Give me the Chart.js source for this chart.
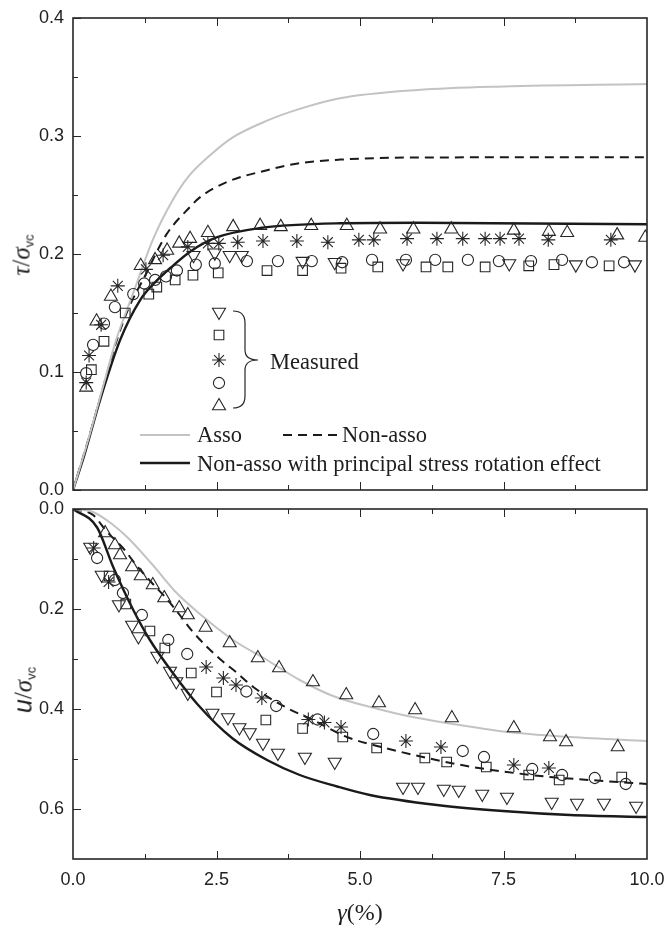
<!DOCTYPE html>
<html>
<head>
<meta charset="utf-8">
<script src="https://cdn.jsdelivr.net/npm/chart.js@4.4.1/dist/chart.umd.min.js"></script>
<style>
body { margin: 0; background: #fff; }
#wrap { position: relative; width: 666px; height: 926px; }
canvas { position: absolute; left: 0; }
.t { position: absolute; font-family: "Liberation Serif", "Times New Roman", serif; color: #1e1e1e; white-space: nowrap; line-height: 1; }
.leg { font-size: 22.5px; }
.ax { font-size: 25px; transform: translate(-50%, -50%) rotate(-90deg); }
.ax sub { font-family: "Liberation Sans", Arial, sans-serif; font-size: 13px; vertical-align: -4px; }
</style>
</head>
<body>
<div id="wrap">
  <canvas id="topChart" width="666" height="500" style="top:0"></canvas>
  <canvas id="botChart" width="666" height="426" style="top:500px"></canvas>

  <div class="t leg" style="left:270px; top:351px">Measured</div>
  <div class="t leg" style="left:197px; top:424px">Asso</div>
  <div class="t leg" style="left:342px; top:424px">Non-asso</div>
  <div class="t leg" style="left:197px; top:453px">Non-asso with principal stress rotation effect</div>

  <div class="t ax" style="left:22px; top:255px"><i>τ</i>/<i>σ</i><sub>vc</sub></div>
  <div class="t ax" style="left:24px; top:690px"><i style="font-family:'Liberation Sans',Arial,sans-serif">u</i>/<i>σ</i><sub>vc</sub></div>
  <div class="t" style="left:360px; top:912px; font-size:24px; transform:translate(-50%,-50%)"><i>γ</i>(%)</div>
</div>

<script>
// axis ticks
const xTicks = [0, 2.5, 5, 7.5, 10];
const tauTicks = [0, 0.1, 0.2, 0.3, 0.4];
const uTicks = [0, 0.2, 0.4, 0.6];

// model curves, shear stress ratio
const tauAsso = [[0,0],[0.25,0.04],[0.52,0.087],[0.75,0.127],[1.05,0.167],[1.39,0.212],[1.74,0.246],[2.0,0.265],[2.42,0.285],[2.79,0.299],[3.38,0.313],[3.95,0.323],[4.65,0.332],[6,0.339],[7.5,0.342],[10,0.344]];
const tauNonAsso = [[0,0],[0.25,0.04],[0.56,0.093],[0.75,0.125],[0.96,0.153],[1.25,0.181],[1.62,0.216],[2.04,0.24],[2.21,0.248],[2.68,0.261],[3.38,0.271],[3.95,0.277],[4.65,0.28],[6,0.2818],[10,0.282]];
const tauRotation = [[0,0],[0.2,0.03],[0.47,0.076],[0.82,0.127],[1.17,0.161],[1.45,0.177],[1.74,0.19],[2.04,0.202],[2.5,0.214],[3.26,0.222],[4.65,0.226],[6,0.2265],[8,0.2258],[10,0.2252]];

// measured, shear stress ratio
const tauDown = [[2.1,0.199],[2.47,0.201],[2.73,0.199],[2.94,0.199],[4.0,0.194],[4.56,0.193],[5.75,0.192],[7.6,0.192],[8.76,0.191],[9.79,0.191]];
const tauSquare = [[0.32,0.102],[0.54,0.126],[0.91,0.150],[1.32,0.166],[1.46,0.172],[1.78,0.178],[2.09,0.182],[2.53,0.184],[3.38,0.186],[4.0,0.186],[4.67,0.188],[5.31,0.189],[6.15,0.189],[6.53,0.189],[7.18,0.189],[7.94,0.190],[8.38,0.191],[9.34,0.190]];
const tauStar = [[0.23,0.091],[0.28,0.114],[0.49,0.140],[0.78,0.173],[1.27,0.187],[1.57,0.199],[2.0,0.206],[2.35,0.209],[2.54,0.209],[2.87,0.210],[3.31,0.211],[3.9,0.211],[4.44,0.210],[4.98,0.212],[5.24,0.212],[5.82,0.213],[6.34,0.213],[6.79,0.213],[7.18,0.213],[7.44,0.213],[7.77,0.213],[8.28,0.212],[9.37,0.212]];
const tauCircle = [[0.23,0.099],[0.35,0.123],[0.54,0.141],[0.73,0.155],[1.05,0.166],[1.24,0.175],[1.43,0.178],[1.62,0.181],[1.81,0.186],[2.14,0.191],[2.47,0.192],[3.03,0.194],[3.57,0.194],[4.16,0.194],[4.69,0.193],[5.21,0.195],[5.80,0.195],[6.31,0.195],[6.88,0.195],[7.42,0.194],[7.98,0.194],[8.52,0.195],[9.04,0.193],[9.6,0.193]];
const tauUp = [[0.23,0.087],[0.41,0.143],[0.66,0.164],[1.18,0.190],[1.43,0.195],[1.64,0.203],[1.85,0.209],[2.04,0.213],[2.35,0.218],[2.79,0.223],[3.26,0.224],[3.62,0.223],[4.15,0.224],[4.77,0.224],[5.35,0.221],[5.93,0.221],[6.59,0.221],[7.68,0.220],[8.29,0.219],[8.61,0.218],[9.48,0.216],[9.97,0.214]];

// model curves, pore pressure ratio
const uAsso = [[0,0],[0.35,0.006],[0.7,0.032],[0.96,0.058],[1.39,0.112],[1.79,0.166],[2.21,0.21],[2.79,0.262],[3.38,0.302],[3.95,0.342],[4.53,0.374],[5.35,0.401],[5.75,0.412],[6.62,0.43],[7.49,0.445],[8.66,0.456],[10,0.464]];
const uNonAsso = [[0,0],[0.35,0.012],[0.58,0.044],[0.87,0.078],[1.1,0.112],[1.36,0.146],[1.62,0.178],[1.86,0.212],[2.09,0.246],[2.56,0.3],[2.86,0.328],[3.14,0.356],[3.73,0.398],[4.18,0.422],[4.77,0.456],[5.44,0.478],[6.17,0.498],[6.86,0.514],[7.56,0.526],[8.31,0.536],[9.0,0.542],[10,0.55]];
const uRotation = [[0,0],[0.42,0.037],[0.7,0.116],[1.05,0.202],[1.34,0.262],[1.74,0.328],[2.18,0.392],[2.77,0.458],[3.38,0.502],[3.95,0.532],[4.6,0.555],[5.17,0.572],[6.34,0.592],[7.49,0.604],[8.66,0.612],[10,0.616]];

// measured, pore pressure ratio
const uDown = [[0.3,0.076],[0.5,0.132],[0.8,0.191],[1.03,0.232],[1.14,0.255],[1.47,0.294],[1.69,0.324],[1.8,0.345],[2.0,0.368],[2.43,0.408],[2.7,0.417],[2.9,0.437],[3.08,0.447],[3.31,0.468],[3.57,0.488],[4.04,0.496],[4.56,0.506],[5.75,0.556],[6.01,0.556],[6.46,0.56],[6.72,0.562],[7.13,0.57],[7.56,0.576],[8.34,0.586],[8.78,0.588],[9.25,0.588],[9.81,0.594]];
const uSquare = [[0.63,0.134],[0.92,0.19],[1.34,0.244],[1.6,0.278],[2.06,0.328],[2.5,0.366],[3.36,0.422],[4.0,0.439],[4.7,0.456],[5.29,0.478],[6.13,0.498],[6.51,0.506],[7.2,0.516],[7.94,0.532],[8.47,0.542],[9.56,0.536]];
const uStar = [[0.36,0.078],[0.62,0.146],[2.32,0.316],[2.62,0.338],[2.84,0.352],[3.29,0.378],[4.1,0.421],[4.38,0.427],[4.67,0.436],[5.8,0.464],[6.41,0.476],[7.68,0.512],[8.29,0.518]];
const uCircle = [[0.42,0.098],[0.73,0.142],[0.87,0.168],[1.2,0.212],[1.66,0.262],[1.99,0.29],[3.02,0.365],[3.54,0.394],[4.26,0.421],[5.23,0.45],[6.79,0.484],[7.16,0.496],[8.0,0.52],[8.52,0.532],[9.09,0.538],[9.63,0.55]];
const uUp = [[0.56,0.048],[0.73,0.072],[0.82,0.092],[1.03,0.116],[1.18,0.134],[1.39,0.152],[1.59,0.178],[1.85,0.198],[2.0,0.212],[2.31,0.237],[2.73,0.268],[3.22,0.298],[3.59,0.318],[4.18,0.346],[4.76,0.372],[5.33,0.388],[5.96,0.402],[6.6,0.418],[7.68,0.438],[8.31,0.456],[8.59,0.466],[9.49,0.476]];

const ink = '#262626';
const tickFont = { family: '"Liberation Sans", Arial, sans-serif', size: 18 };

const pts = arr => arr.map(p => ({ x: p[0], y: p[1] }));

function curve(data, color, width, dash) {
  return {
    data: pts(data), showLine: true, borderColor: color, borderWidth: width,
    borderDash: dash || [], pointRadius: 0, cubicInterpolationMode: 'monotone', fill: false
  };
}
function marks(data, style, radius, rotation) {
  return {
    data: pts(data), showLine: false, pointStyle: style, pointRadius: radius,
    pointRotation: rotation || 0, borderColor: ink, backgroundColor: 'rgba(0,0,0,0)',
    pointBorderWidth: 1.1
  };
}

function measuredSets(down, square, star, circle, up) {
  return [
    marks(down, 'triangle', 7.5, 180),
    marks(square, 'rect', 6.8),
    marks(star, 'star', 7),
    marks(circle, 'circle', 5.6),
    marks(up, 'triangle', 7.5)
  ];
}

function tickList(major) {
  const all = [];
  for (let i = 0; i < major.length; i++) {
    all.push([major[i], 8]);
    if (i < major.length - 1) all.push([(major[i] + major[i + 1]) / 2, 5]);
  }
  return all;
}

// frame and inward ticks
const framePlugin = {
  id: 'frame',
  afterDraw(chart, args, opts) {
    const { ctx, chartArea: a, scales } = chart;
    ctx.save();
    ctx.strokeStyle = ink;
    ctx.lineWidth = 1;
    ctx.beginPath();
    tickList(xTicks).forEach(([v, len]) => {
      const px = Math.round(scales.x.getPixelForValue(v)) + 0.5;
      if (v <= 0 || v >= 10) return;
      ctx.moveTo(px, a.bottom); ctx.lineTo(px, a.bottom - len);
      ctx.moveTo(px, a.top); ctx.lineTo(px, a.top + len);
    });
    tickList(opts.yTicks).forEach(([v, len]) => {
      const py = Math.round(scales.y.getPixelForValue(v)) + 0.5;
      ctx.moveTo(a.left, py); ctx.lineTo(a.left + len, py);
    });
    ctx.stroke();
    ctx.lineWidth = 1.6;
    ctx.strokeRect(a.left, a.top, a.right - a.left, a.bottom - a.top);
    ctx.restore();
  }
};

// in-plot legend (markers, brace and line samples)
const keyPlugin = {
  id: 'key',
  afterDraw(chart) {
    const ctx = chart.ctx;
    const draw = Chart.helpers && Chart.helpers.drawPoint;
    ctx.save();
    ctx.strokeStyle = ink;
    ctx.fillStyle = 'rgba(0,0,0,0)';
    ctx.lineWidth = 1.1;
    const keys = [
      ['triangle', 7.5, 180, 312], ['rect', 6.8, 0, 335], ['star', 7, 0, 360],
      ['circle', 5.6, 0, 383], ['triangle', 7.5, 0, 406]
    ];
    keys.forEach(k => {
      if (draw) draw(ctx, { pointStyle: k[0], radius: k[1], rotation: k[2], borderWidth: 1.1 }, 219, k[3]);
    });
    // brace
    ctx.lineWidth = 1.2;
    ctx.beginPath();
    ctx.moveTo(233, 311);
    ctx.quadraticCurveTo(245, 311, 245, 323);
    ctx.lineTo(245, 350);
    ctx.quadraticCurveTo(245, 360, 258, 360);
    ctx.quadraticCurveTo(245, 360, 245, 370);
    ctx.lineTo(245, 396);
    ctx.quadraticCurveTo(245, 408, 233, 408);
    ctx.stroke();
    // line samples
    ctx.lineWidth = 2;
    ctx.strokeStyle = '#c3c3c3';
    ctx.beginPath(); ctx.moveTo(140, 435); ctx.lineTo(190, 435); ctx.stroke();
    ctx.strokeStyle = '#1a1a1a';
    ctx.setLineDash([9, 6]);
    ctx.beginPath(); ctx.moveTo(283, 435); ctx.lineTo(340, 435); ctx.stroke();
    ctx.setLineDash([]);
    ctx.lineWidth = 2.4;
    ctx.beginPath(); ctx.moveTo(140, 463); ctx.lineTo(190, 463); ctx.stroke();
    ctx.restore();
  }
};

function yScale(min, max, ticks, reverse) {
  return {
    type: 'linear', min: min, max: max, reverse: !!reverse,
    afterBuildTicks: s => { s.ticks = ticks.map(v => ({ value: v })); },
    afterFit: s => { s.width = 73; s.paddingTop = 0; s.paddingBottom = 0; },
    grid: { display: false, drawTicks: false },
    border: { display: false },
    ticks: { padding: 9, font: tickFont, color: '#222', callback: v => v.toFixed(1) }
  };
}

const baseOptions = {
  responsive: false, animation: false, devicePixelRatio: 1,
  plugins: { legend: { display: false }, tooltip: { enabled: false } }
};

new Chart(document.getElementById('topChart'), {
  type: 'scatter',
  data: {
    datasets: [
      ...measuredSets(tauDown, tauSquare, tauStar, tauCircle, tauUp),
      curve(tauAsso, '#c3c3c3', 2),
      curve(tauNonAsso, '#1a1a1a', 2, [9, 6]),
      curve(tauRotation, '#1a1a1a', 2.4)
    ]
  },
  options: {
    ...baseOptions,
    layout: { padding: { left: 0, right: 19, top: 18, bottom: 10 } },
    plugins: { ...baseOptions.plugins, frame: { yTicks: tauTicks } },
    scales: {
      x: { type: 'linear', min: 0, max: 10, display: false },
      y: yScale(0, 0.4, tauTicks)
    }
  },
  plugins: [framePlugin, keyPlugin]
});

new Chart(document.getElementById('botChart'), {
  type: 'scatter',
  data: {
    datasets: [
      ...measuredSets(uDown, uSquare, uStar, uCircle, uUp),
      curve(uAsso, '#c3c3c3', 2),
      curve(uNonAsso, '#1a1a1a', 2, [9, 6]),
      curve(uRotation, '#1a1a1a', 2.4)
    ]
  },
  options: {
    ...baseOptions,
    layout: { padding: { left: 0, right: 19, top: 9, bottom: 0 } },
    plugins: { ...baseOptions.plugins, frame: { yTicks: uTicks } },
    scales: {
      x: {
        type: 'linear', min: 0, max: 10,
        afterBuildTicks: s => { s.ticks = xTicks.map(v => ({ value: v })); },
        afterFit: s => { s.height = 67; s.paddingLeft = 0; s.paddingRight = 0; },
        grid: { display: false, drawTicks: false },
        border: { display: false },
        ticks: { padding: 10, font: tickFont, color: '#222', maxRotation: 0, callback: v => v.toFixed(1) }
      },
      y: yScale(0, 0.7, uTicks, true)
    }
  },
  plugins: [framePlugin]
});
</script>
</body>
</html>
